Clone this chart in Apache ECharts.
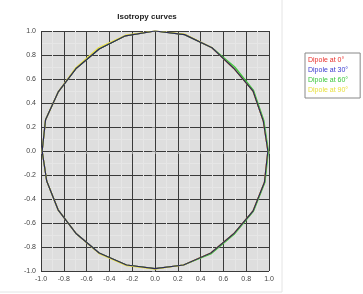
<!DOCTYPE html>
<html>
<head>
<meta charset="utf-8">
<script src="https://cdn.jsdelivr.net/npm/echarts@6/dist/echarts.min.js"></script>
<style>
  html, body { margin: 0; padding: 0; background: #fff; }
  #chart { width: 363px; height: 294px; }
</style>
</head>
<body>
<div id="chart"></div>
<script>
const seriesNames = ['Dipole at 0°', 'Dipole at 30°', 'Dipole at 60°', 'Dipole at 90°'];
const tickLabels = ['-1.0', '-0.8', '-0.6', '-0.4', '-0.2', '0.0', '0.2', '0.4', '0.6', '0.8', '1.0'];

// points, going round counter-clockwise from the right
const dipole0 = [
  [0.99, 0], [0.95, 0.25], [0.86, 0.50], [0.69, 0.69], [0.50, 0.86], [0.26, 0.97],
  [0, 1.0], [-0.26, 0.96], [-0.49, 0.85], [-0.69, 0.69], [-0.85, 0.49], [-0.96, 0.26],
  [-0.99, 0], [-0.95, -0.25], [-0.85, -0.49], [-0.69, -0.69], [-0.49, -0.85], [-0.25, -0.95],
  [0, -0.98], [0.25, -0.95], [0.49, -0.85], [0.69, -0.69], [0.86, -0.50], [0.96, -0.26], [0.99, 0]
];
const dipole30 = [
  [0.99, 0], [0.95, 0.25], [0.86, 0.50], [0.69, 0.69], [0.50, 0.86], [0.26, 0.97],
  [0, 1.0], [-0.26, 0.96], [-0.49, 0.85], [-0.69, 0.69], [-0.85, 0.49], [-0.96, 0.26],
  [-0.99, 0], [-0.95, -0.25], [-0.85, -0.49], [-0.69, -0.69], [-0.49, -0.85], [-0.25, -0.95],
  [0, -0.98], [0.25, -0.95], [0.49, -0.85], [0.69, -0.69], [0.86, -0.50], [0.96, -0.26], [0.99, 0]
];
const dipole60 = [
  [0.995, 0], [0.955, 0.255], [0.865, 0.505], [0.70, 0.70], [0.50, 0.86], [0.26, 0.97],
  [0, 1.0], [-0.26, 0.96], [-0.49, 0.85], [-0.69, 0.69], [-0.85, 0.49], [-0.96, 0.26],
  [-0.99, 0], [-0.95, -0.25], [-0.85, -0.49], [-0.69, -0.69], [-0.49, -0.85], [-0.25, -0.95],
  [0, -0.98], [0.25, -0.95], [0.495, -0.855], [0.695, -0.695], [0.865, -0.50], [0.965, -0.26], [0.995, 0]
];
const dipole90 = [
  [0.99, 0], [0.95, 0.25], [0.86, 0.50], [0.69, 0.69], [0.50, 0.86], [0.26, 0.975],
  [0, 1.0], [-0.26, 0.965], [-0.495, 0.86], [-0.695, 0.695], [-0.85, 0.49], [-0.96, 0.26],
  [-0.99, 0], [-0.95, -0.25], [-0.85, -0.49], [-0.69, -0.69], [-0.49, -0.855], [-0.25, -0.955],
  [0, -0.985], [0.25, -0.95], [0.49, -0.85], [0.69, -0.69], [0.86, -0.50], [0.96, -0.26], [0.99, 0]
];

const colors = ['#e8302c', '#2a2c5a', '#3cc83c', '#e8e040'];
const textColors = ['#e8302c', '#3a3ad0', '#3cc83c', '#e8e040'];

let myChart = echarts.init(document.getElementById('chart'));

let axisCommon = {
  type: 'value',
  min: -1,
  max: 1,
  interval: 0.2,
  axisLine: { show: false },
  axisTick: { show: true, length: 3, lineStyle: { color: '#888' } },
  axisLabel: {
    fontSize: 7,
    color: '#444',
    fontFamily: 'Liberation Sans',
    margin: 5,
    formatter: (v) => tickLabels[Math.round((v + 1) / 0.2)]
  },
  splitLine: { show: true, lineStyle: { color: '#3a3a3a', width: 1 } },
  minorTick: { show: false, splitNumber: 2 },
  minorSplitLine: { show: true, lineStyle: { color: '#e6e6e6', width: 1 } }
};

let option = {
  animation: false,
  color: colors,
  title: {
    text: 'Isotropy curves',
    left: 142,
    top: 8,
    textAlign: 'center',
    textStyle: { fontSize: 8, fontWeight: 'bold', color: '#222', fontFamily: 'Liberation Sans' }
  },
  legend: {
    orient: 'vertical',
    left: 305,
    top: 53,
    itemWidth: 0,
    itemHeight: 0,
    itemGap: 3,
    padding: [4, 12, 4, 3],
    borderColor: '#888',
    borderWidth: 1,
    data: seriesNames.map((n, i) => ({ name: n, icon: 'none', textStyle: { color: textColors[i] } })),
    textStyle: { fontSize: 7, fontFamily: 'Liberation Sans', padding: [0, 0, 0, -5] }
  },
  grid: {
    left: 41,
    right: 94,
    top: 31,
    bottom: 23,
    show: true,
    backgroundColor: '#dedede',
    borderWidth: 0
  },
  xAxis: Object.assign({}, axisCommon),
  yAxis: Object.assign({}, axisCommon),
  graphic: [
    { type: 'line', shape: { x1: 282, y1: 0, x2: 282, y2: 292 }, style: { stroke: '#e4e4e4', lineWidth: 1 } },
    { type: 'line', shape: { x1: 0, y1: 292, x2: 282, y2: 292 }, style: { stroke: '#e4e4e4', lineWidth: 1 } }
  ],
  series: [
    { name: seriesNames[0], data: dipole0, z: 2 },
    { name: seriesNames[2], data: dipole60, z: 3 },
    { name: seriesNames[3], data: dipole90, z: 4 },
    { name: seriesNames[1], data: dipole30, z: 5 }
  ].map((s) => Object.assign({
    type: 'line',
    showSymbol: false,
    smooth: false,
    lineStyle: { width: 1.2 }
  }, s))
};
// keep colours tied to the legend order
option.series.forEach((s) => { s.itemStyle = { color: colors[seriesNames.indexOf(s.name)] }; });
myChart.setOption(option);
</script>
</body>
</html>
